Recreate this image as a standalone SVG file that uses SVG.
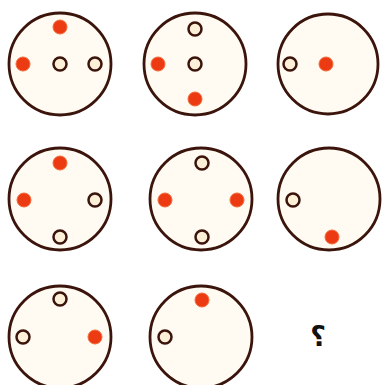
<svg xmlns="http://www.w3.org/2000/svg" width="382" height="385" viewBox="0 0 382 385">
<style>
.big{fill:#fffbf2;stroke:#3b140c;stroke-width:2.8}
.red{fill:#ec3a12;stroke:#f26a3a;stroke-width:1}
.open{fill:#fcf1d8;stroke:#3b140c;stroke-width:2.5}
.q{font-family:"DejaVu Sans",sans-serif;font-weight:bold;font-size:27px;fill:#111}
</style>
<rect width="382" height="385" fill="#ffffff"/>
<g id="c1">
<circle class="big" cx="60" cy="64" r="51"/>
<circle class="red" cx="60" cy="27" r="7"/>
<circle class="red" cx="23" cy="64" r="7"/>
<circle class="open" cx="60" cy="64" r="6.5"/>
<circle class="open" cx="95" cy="64" r="6.5"/>
</g>
<g id="c2">
<circle class="big" cx="195" cy="64" r="51"/>
<circle class="open" cx="195" cy="29" r="6.5"/>
<circle class="red" cx="158" cy="64" r="7"/>
<circle class="open" cx="195" cy="64" r="6.5"/>
<circle class="red" cx="195" cy="99" r="7"/>
</g>
<g id="c3">
<circle class="big" cx="328" cy="64" r="50"/>
<circle class="open" cx="290" cy="64" r="6.5"/>
<circle class="red" cx="326" cy="64" r="7"/>
</g>
<g id="c4">
<circle class="big" cx="60" cy="199" r="51"/>
<circle class="red" cx="60" cy="163" r="7"/>
<circle class="red" cx="24" cy="200" r="7"/>
<circle class="open" cx="95" cy="200" r="6.5"/>
<circle class="open" cx="60" cy="237" r="6.5"/>
</g>
<g id="c5">
<circle class="big" cx="201" cy="199" r="51"/>
<circle class="open" cx="202" cy="163" r="6.5"/>
<circle class="red" cx="165" cy="200" r="7"/>
<circle class="red" cx="237" cy="200" r="7"/>
<circle class="open" cx="202" cy="237" r="6.5"/>
</g>
<g id="c6">
<circle class="big" cx="329" cy="199" r="51"/>
<circle class="open" cx="293" cy="200" r="6.5"/>
<circle class="red" cx="332" cy="237" r="7"/>
</g>
<g id="c7">
<circle class="big" cx="60" cy="337" r="51"/>
<circle class="open" cx="60" cy="299" r="6.5"/>
<circle class="open" cx="23" cy="337" r="6.5"/>
<circle class="red" cx="95" cy="337" r="7"/>
</g>
<g id="c8">
<circle class="big" cx="201" cy="337" r="51"/>
<circle class="red" cx="202" cy="300" r="7"/>
<circle class="open" cx="165" cy="337" r="6.5"/>
</g>
<g id="connectors"/>
<text class="q" x="318" y="346" text-anchor="middle">؟</text>
</svg>
